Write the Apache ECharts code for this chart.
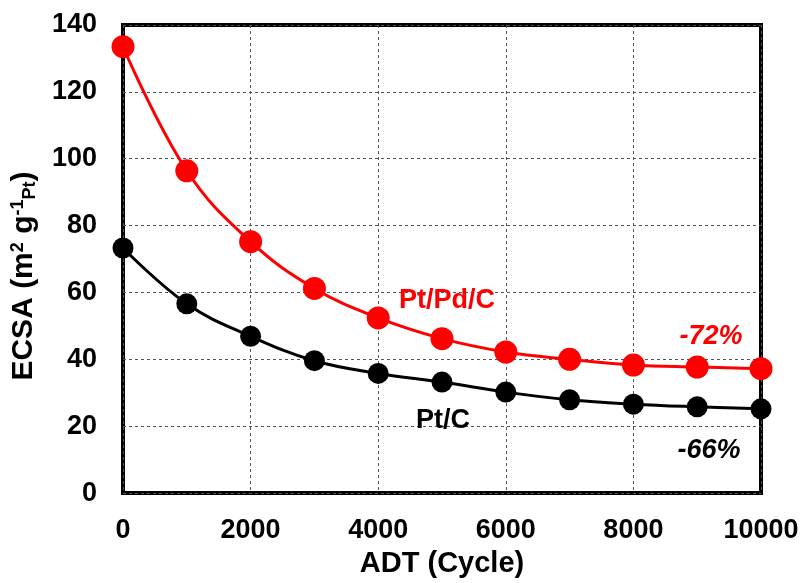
<!DOCTYPE html>
<html><head><meta charset="utf-8">
<script src="https://cdn.jsdelivr.net/npm/echarts@6/dist/echarts.min.js"></script>
<style>html,body{margin:0;padding:0;background:#fff}#c{width:803px;height:583px}</style>
</head><body><div id="c"></div>
<script>
const cycles = [0,1000,2000,3000,4000,5000,6000,7000,8000,9000,10000];
const ptPdC = [133.5,96.4,75.2,61.2,52.4,46.2,42.2,40.0,38.3,37.7,37.2];
const ptC = [73.3,56.6,46.9,39.6,35.8,33.2,30.2,27.9,26.6,25.8,25.2];
const seriesNames = ['Pt/Pd/C','Pt/C'];
const lossLabels = ['-72%','-66%'];
const FONT = '"Liberation Sans", Arial, sans-serif';

const chart = echarts.init(document.getElementById('c'));
const pair = (xs, ys) => xs.map((x,i)=>[x, ys[i]]);
const txt = (color, italic) => ({fontFamily: FONT, fontWeight:'bold', fontSize: 27, color, fontStyle: italic ? 'italic':'normal'});

chart.setOption({
  animation:false,
  backgroundColor:'#fff',
  grid:{left:123,right:42,top:25,bottom:86,show:true,borderColor:'#000',borderWidth:4,backgroundColor:'transparent'},
  xAxis:{type:'value',min:0,max:10000,interval:2000,
    name:'ADT (Cycle)',nameLocation:'middle',nameGap:46,
    nameTextStyle:{fontFamily:FONT,fontWeight:'bold',fontSize:29,color:'#000'},
    axisLine:{show:false},axisTick:{show:false},
    axisLabel:{margin:24,fontFamily:FONT,fontWeight:'bold',fontSize:27,color:'#000',formatter:v=>String(v)},
    splitLine:{show:true,lineStyle:{color:'#555',type:[3,3],width:1}}},
  yAxis:{type:'value',min:0,max:140,interval:20,
    name:'ECSA (m{sup|2} g{sup|-1}{sub|Pt})',nameLocation:'middle',nameGap:84,
    nameTextStyle:{fontFamily:FONT,fontWeight:'bold',fontSize:30,color:'#000',padding:[0,34,0,0],
      rich:{sup:{fontFamily:FONT,fontWeight:'bold',fontSize:18,color:'#000',verticalAlign:'top',padding:[0,0,12,0]},
            sub:{fontFamily:FONT,fontWeight:'bold',fontSize:18,color:'#000',verticalAlign:'bottom',padding:[10,0,0,0]}}},
    axisLine:{show:false},axisTick:{show:false},
    axisLabel:{margin:26,fontFamily:FONT,fontWeight:'bold',fontSize:27,color:'#000'},
    splitLine:{show:true,lineStyle:{color:'#555',type:[3,3],width:1}}},
  series:[
    {name:seriesNames[0],type:'line',smooth:0.4,data:pair(cycles,ptPdC),
      symbol:'circle',symbolSize:23,itemStyle:{color:'#ff0000'},lineStyle:{color:'#ff0000',width:3},z:3,
      markPoint:{symbol:'circle',symbolSize:0,silent:true,
        data:[
          {coord:[5078,57.6],label:{show:true,formatter:seriesNames[0],...txt('#ff0000',false)}},
          {coord:[9216,46.8],label:{show:true,formatter:lossLabels[0],...txt('#ff0000',true)}}
        ]}},
    {name:seriesNames[1],type:'line',smooth:0.4,data:pair(cycles,ptC),
      symbol:'circle',symbolSize:21,itemStyle:{color:'#000'},lineStyle:{color:'#000',width:3},z:2,
      markPoint:{symbol:'circle',symbolSize:0,silent:true,
        data:[
          {coord:[5016,21.8],label:{show:true,formatter:seriesNames[1],...txt('#000',false)}},
          {coord:[9185,12.6],label:{show:true,formatter:lossLabels[1],...txt('#000',true)}}
        ]}}
  ]
});
</script></body></html>
